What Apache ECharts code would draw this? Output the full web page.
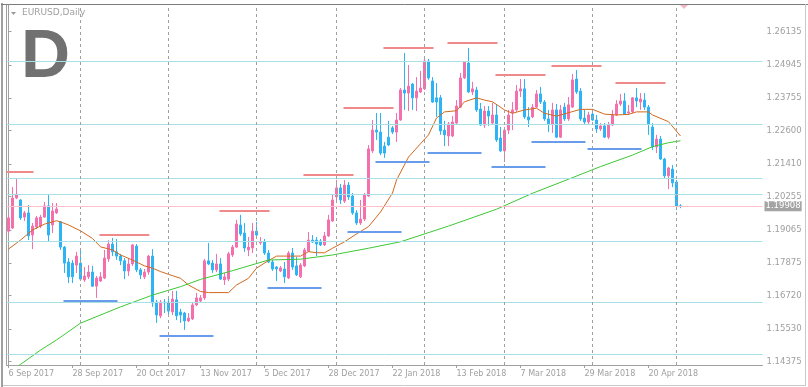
<!DOCTYPE html>
<html><head><meta charset="utf-8">
<script src="https://cdn.jsdelivr.net/npm/echarts@6/dist/echarts.min.js"></script>
<style>html,body{margin:0;padding:0;background:#fff}#c{width:808px;height:387px}</style>
</head><body><div id="c"></div>
<script>
// ---- data ----
const startDate = [2017, 8, 6];           // 6 Sep 2017 (UTC y, m0, d)
const barCount = 169;
const holidays = ['2017-12-25', '2018-01-01'];
const emptySlots = 20;                    // right-hand shift area
const labelEvery = 16;
const yTickValues = [1.14375, 1.15530, 1.16720, 1.17875, 1.19065, 1.20255, 1.21410, 1.22600, 1.23755, 1.24945, 1.26135];
const yMin = 1.14249, yMax = 1.27079;

const opens = [1.1902,1.1913,1.2020,1.2013,1.1952,1.1967,1.1888,1.1917,1.1920,1.1952,
 1.1992,1.1924,1.1967,1.1935,1.1845,1.1792,1.1788,1.1781,1.1788,1.1728,
 1.1739,1.1756,1.1706,1.1724,1.1735,1.1803,1.1856,1.1828,1.1813,1.1796,
 1.1760,1.1785,1.1849,1.1764,1.1739,1.1756,1.1813,1.1649,1.1600,1.1649,
 1.1649,1.1614,1.1657,1.1614,1.1610,1.1582,1.1589,1.1639,1.1653,1.1664,
 1.1796,1.1788,1.1764,1.1785,1.1728,1.1731,1.1817,1.1845,1.1924,1.1895,
 1.1835,1.1842,1.1902,1.1860,1.1863,1.1824,1.1792,1.1774,1.1760,1.1767,
 1.1735,1.1824,1.1778,1.1739,1.1778,1.1831,1.1870,1.1870,1.1867,1.1853,
 1.1885,1.1938,1.2024,1.2056,1.2009,1.2066,1.2027,1.1967,1.1931,1.1945,
 1.2027,1.2188,1.2262,1.2255,1.2205,1.2237,1.2270,1.2255,1.2298,1.2405,
 1.2394,1.2426,1.2377,1.2398,1.2409,1.2508,1.2437,1.2377,1.2377,1.2262,
 1.2241,1.2241,1.2287,1.2344,1.2448,1.2501,1.2398,1.2405,1.2337,1.2280,
 1.2330,1.2287,1.2316,1.2234,1.2188,1.2262,1.2323,1.2334,1.2401,1.2409,
 1.2309,1.2309,1.2344,1.2391,1.2362,1.2302,1.2284,1.2334,1.2237,1.2344,
 1.2302,1.2344,1.2444,1.2401,1.2305,1.2291,1.2319,1.2298,1.2266,1.2277,
 1.2237,1.2280,1.2316,1.2355,1.2366,1.2323,1.2327,1.2377,1.2362,1.2369,
 1.2344,1.2273,1.2202,1.2230,1.2159,1.2099,1.2123,1.2077,1.1992];
const closes = [1.1949,1.2020,1.2034,1.1949,1.1967,1.1885,1.1920,1.1949,1.1952,1.1992,
 1.1888,1.1974,1.1981,1.1845,1.1788,1.1739,1.1739,1.1813,1.1731,1.1742,
 1.1756,1.1706,1.1735,1.1739,1.1806,1.1856,1.1828,1.1813,1.1796,1.1760,
 1.1785,1.1853,1.1764,1.1746,1.1756,1.1813,1.1646,1.1603,1.1649,1.1646,
 1.1617,1.1660,1.1600,1.1603,1.1582,1.1592,1.1639,1.1664,1.1664,1.1796,
 1.1785,1.1764,1.1785,1.1731,1.1739,1.1821,1.1845,1.1927,1.1892,1.1842,
 1.1845,1.1902,1.1888,1.1863,1.1824,1.1792,1.1767,1.1767,1.1771,1.1739,
 1.1824,1.1774,1.1746,1.1781,1.1835,1.1870,1.1863,1.1856,1.1853,1.1885,
 1.1942,1.2013,1.2056,1.2013,1.2066,1.2024,1.1967,1.1931,1.1945,1.2031,
 1.2195,1.2262,1.2255,1.2180,1.2180,1.2209,1.2255,1.2298,1.2405,1.2394,
 1.2419,1.2377,1.2401,1.2412,1.2508,1.2448,1.2362,1.2362,1.2259,1.2245,
 1.2284,1.2291,1.2348,1.2448,1.2505,1.2398,1.2409,1.2334,1.2280,1.2330,
 1.2312,1.2316,1.2227,1.2188,1.2262,1.2316,1.2334,1.2401,1.2409,1.2309,
 1.2298,1.2344,1.2391,1.2362,1.2302,1.2284,1.2334,1.2237,1.2334,1.2302,
 1.2352,1.2441,1.2398,1.2302,1.2291,1.2316,1.2298,1.2266,1.2277,1.2237,
 1.2280,1.2316,1.2355,1.2366,1.2319,1.2327,1.2377,1.2366,1.2373,1.2344,
 1.2284,1.2202,1.2230,1.2159,1.2099,1.2127,1.2074,1.1992,1.19908];
const lows = [1.1892,1.1910,1.2016,1.1942,1.1938,1.1870,1.1838,1.1910,1.1913,1.1949,
 1.1863,1.1895,1.1963,1.1835,1.1753,1.1717,1.1717,1.1753,1.1728,1.1721,
 1.1731,1.1703,1.1664,1.1721,1.1731,1.1792,1.1813,1.1799,1.1781,1.1731,
 1.1742,1.1778,1.1756,1.1731,1.1731,1.1746,1.1632,1.1575,1.1592,1.1610,
 1.1603,1.1603,1.1585,1.1575,1.1550,1.1578,1.1585,1.1635,1.1646,1.1657,
 1.1781,1.1753,1.1756,1.1728,1.1710,1.1724,1.1810,1.1842,1.1885,1.1828,
 1.1813,1.1824,1.1878,1.1853,1.1817,1.1788,1.1760,1.1724,1.1756,1.1717,
 1.1731,1.1764,1.1742,1.1735,1.1774,1.1828,1.1860,1.1813,1.1849,1.1849,
 1.1881,1.1935,1.2002,1.1999,1.2002,1.2013,1.1960,1.1924,1.1924,1.1938,
 1.2024,1.2180,1.2227,1.2173,1.2163,1.2205,1.2248,1.2220,1.2295,1.2334,
 1.2330,1.2334,1.2330,1.2394,1.2405,1.2441,1.2359,1.2309,1.2245,1.2205,
 1.2205,1.2237,1.2284,1.2341,1.2444,1.2394,1.2387,1.2327,1.2277,1.2270,
 1.2277,1.2280,1.2220,1.2184,1.2148,1.2248,1.2262,1.2327,1.2380,1.2302,
 1.2273,1.2305,1.2341,1.2355,1.2295,1.2255,1.2252,1.2234,1.2234,1.2295,
 1.2295,1.2341,1.2391,1.2295,1.2284,1.2284,1.2295,1.2252,1.2259,1.2234,
 1.2230,1.2277,1.2312,1.2348,1.2316,1.2316,1.2323,1.2344,1.2334,1.2334,
 1.2245,1.2191,1.2180,1.2156,1.2091,1.2052,1.2059,1.1977,1.1984];
const highs = [1.1960,1.2059,1.2091,1.2016,1.1974,1.1995,1.1931,1.1956,1.1960,1.2006,
 1.2034,1.2002,1.2002,1.1938,1.1849,1.1806,1.1799,1.1828,1.1835,1.1774,
 1.1781,1.1778,1.1742,1.1756,1.1835,1.1870,1.1878,1.1874,1.1821,1.1806,
 1.1806,1.1856,1.1856,1.1771,1.1767,1.1817,1.1838,1.1657,1.1657,1.1660,
 1.1664,1.1689,1.1689,1.1625,1.1614,1.1610,1.1649,1.1682,1.1674,1.1803,
 1.1860,1.1799,1.1821,1.1806,1.1753,1.1828,1.1853,1.1942,1.1960,1.1931,
 1.1881,1.1931,1.1935,1.1881,1.1874,1.1835,1.1799,1.1778,1.1778,1.1792,
 1.1831,1.1842,1.1810,1.1788,1.1842,1.1899,1.1888,1.1881,1.1874,1.1899,
 1.1960,1.2031,1.2084,1.2070,1.2084,1.2077,1.2038,1.1977,1.2013,1.2038,
 1.2209,1.2298,1.2323,1.2323,1.2220,1.2295,1.2277,1.2323,1.2412,1.2537,
 1.2494,1.2430,1.2451,1.2473,1.2523,1.2516,1.2451,1.2430,1.2387,1.2295,
 1.2291,1.2312,1.2369,1.2466,1.2508,1.2555,1.2434,1.2416,1.2359,1.2348,
 1.2348,1.2359,1.2352,1.2273,1.2273,1.2334,1.2362,1.2423,1.2444,1.2444,
 1.2344,1.2355,1.2405,1.2416,1.2369,1.2334,1.2359,1.2355,1.2352,1.2359,
 1.2380,1.2462,1.2476,1.2412,1.2334,1.2327,1.2337,1.2316,1.2287,1.2287,
 1.2291,1.2334,1.2369,1.2391,1.2394,1.2352,1.2380,1.2412,1.2394,1.2394,
 1.2352,1.2287,1.2245,1.2241,1.2163,1.2131,1.2138,1.2084,1.1998];

// moving averages: [bar index, price]
const maFast = [[0,1.1838],[3,1.1870],[6,1.1906],[9,1.1927],[12,1.1939],[13,1.1935],[15,1.1924],[18,1.1903],[21,1.1876],[23,1.1846],[26,1.1835],[28,1.1817],[31,1.1799],[34,1.1778],[36,1.1770],[38,1.1758],[40,1.1748],[43,1.1734],[45,1.1710],[48,1.1687],[50,1.1683],[55,1.1683],[57,1.1710],[60,1.1734],[62,1.1770],[65,1.1797],[67,1.1813],[73,1.1813],[75,1.1829],[77,1.1825],[79,1.1825],[81,1.1841],[84,1.1864],[87,1.1892],[90,1.1918],[93,1.1970],[96,1.2038],[97,1.2084],[100,1.2166],[105,1.2245],[107,1.2305],[109,1.2327],[112,1.2331],[114,1.2363],[117,1.2377],[119,1.2369],[121,1.2363],[124,1.2334],[126,1.2322],[129,1.2334],[132,1.2340],[134,1.2322],[137,1.2312],[140,1.2324],[143,1.2336],[146,1.2336],[149,1.2319],[152,1.2316],[155,1.2318],[157,1.2327],[160,1.2327],[161,1.2316],[165,1.2292],[168,1.2241]];
const maSlow = [[0,1.1398],[3,1.1427],[8,1.1478],[12,1.1514],[18,1.1574],[28,1.1632],[36,1.1674],[43,1.1704],[48,1.1730],[55,1.1757],[65,1.1799],[73,1.1802],[81,1.1817],[90,1.1841],[98,1.1864],[110,1.1920],[122,1.1980],[131,1.2037],[140,1.2087],[148,1.2132],[156,1.2173],[161,1.2203],[165,1.2217],[168,1.2224]];

const levelLines = [1.2508, 1.2283, 1.2090, 1.2034, 1.1867, 1.1648, 1.1463];
const bidPrice = 1.19908;
const monthStarts = [18, 40, 62, 82, 104, 124, 146, 167];
// [from bar, to bar, price]
const resistanceSegs = [[-0.5,6.25,1.2113],[22.75,35.2,1.1889],[52.75,65.25,1.1975],[73.75,86.25,1.2102],[83.75,96.25,1.2342],[93.75,106.25,1.2556],[109.75,122.25,1.2574],[121.75,134.25,1.2460],[135.75,148.25,1.2492],[151.75,164.25,1.2431]];
const supportSegs = [[13.75,27.25,1.1654],[37.75,51.25,1.1529],[64.75,78.25,1.1700],[84.75,98.25,1.1900],[91.75,105.25,1.2149],[104.75,118.25,1.2182],[120.75,134.25,1.2132],[130.75,144.25,1.2221],[144.75,158.25,1.2196]];

// ---- categories (trading days) ----
const monthNames = ['Jan','Feb','Mar','Apr','May','Jun','Jul','Aug','Sep','Oct','Nov','Dec'];
const categories = [];
const d = new Date(Date.UTC(startDate[0], startDate[1], startDate[2]));
while (categories.length < barCount) {
  const dow = d.getUTCDay();
  const iso = d.toISOString().slice(0, 10);
  if (dow !== 0 && dow !== 6 && holidays.indexOf(iso) < 0) {
    categories.push(d.getUTCDate() + ' ' + monthNames[d.getUTCMonth()] + ' ' + d.getUTCFullYear());
  }
  d.setUTCDate(d.getUTCDate() + 1);
}
for (let k = 0; k < emptySlots; k++) categories.push('');
const candleData = opens.map((o, i) => [o, closes[i], lows[i], highs[i]]);

const PINK = '#f470ad', BLUE = '#2cb4f4';
const showIdx = (i) => i % labelEvery === 0 && i < barCount;

const bgLines = [];
levelLines.forEach(v => bgLines.push({ yAxis: v, lineStyle: { color: '#a9dfe6', width: 1, type: 'solid' } }));
monthStarts.forEach(v => bgLines.push({ xAxis: v, lineStyle: { color: '#a0a0a0', width: 1, type: [3, 3] } }));
bgLines.push({ yAxis: bidPrice, lineStyle: { color: '#ffc0cb', width: 1, type: 'solid' },
  label: { show: true, position: 'end', distance: 2, formatter: bidPrice.toFixed(5), color: '#fff',
    backgroundColor: '#a4a4a4', padding: [1, 1, 0, 1], fontFamily: 'DejaVu Sans', fontSize: 8.5 } });

const segLines = [];
resistanceSegs.forEach(s => segLines.push([{ coord: [s[0], s[2]], lineStyle: { color: '#f08a8a', width: 2, type: 'solid' } }, { coord: [s[1], s[2]] }]));
supportSegs.forEach(s => segLines.push([{ coord: [s[0], s[2]], lineStyle: { color: '#6a9cec', width: 2, type: 'solid' } }, { coord: [s[1], s[2]] }]));

const chart = echarts.init(document.getElementById('c'), null, { renderer: 'canvas' });
chart.setOption({
  animation: false,
  backgroundColor: '#fff',
  grid: { left: 6.5, right: 45.5, top: 5, bottom: 22 },
  xAxis: [
    { type: 'category', data: categories, boundaryGap: true,
      axisLine: { show: true, lineStyle: { color: '#a0a0a0' } },
      axisTick: { show: true, alignWithLabel: true, length: 3, interval: showIdx, lineStyle: { color: '#a0a0a0' } },
      axisLabel: { interval: showIdx, align: 'left', color: '#a0a0a0', fontFamily: 'DejaVu Sans', fontSize: 8, margin: 5 },
      splitLine: { show: false } },
    { type: 'value', min: -0.5, max: barCount + emptySlots - 0.5, show: false }
  ],
  yAxis: { type: 'value', position: 'right', min: yMin, max: yMax,
    axisLine: { show: true, lineStyle: { color: '#a0a0a0' } },
    axisTick: { show: true, length: 3, customValues: yTickValues, lineStyle: { color: '#a0a0a0' } },
    axisLabel: { customValues: yTickValues, formatter: v => v.toFixed(5), color: '#a0a0a0', fontFamily: 'DejaVu Sans', fontSize: 8.5, margin: 4, padding: [3, 0, 0, 0] },
    splitLine: { show: false } },
  series: [
    { type: 'line', xAxisIndex: 1, data: [], z: 1, silent: true,
      markLine: { silent: true, precision: 6, symbol: ['none', 'none'], animation: false, label: { show: false }, data: bgLines } },
    { type: 'candlestick', xAxisIndex: 0, data: candleData, barWidth: 2, z: 2,
      itemStyle: { color: PINK, color0: BLUE, borderColor: PINK, borderColor0: BLUE, borderWidth: 1 } },
    { type: 'line', xAxisIndex: 1, data: maFast, symbol: 'none', z: 3, silent: true,
      lineStyle: { color: '#d2691e', width: 1 } },
    { type: 'line', xAxisIndex: 1, data: maSlow, symbol: 'none', z: 3, silent: true,
      lineStyle: { color: '#3cc832', width: 1 } },
    { type: 'line', xAxisIndex: 1, data: [], z: 4, silent: true,
      markLine: { silent: true, precision: 6, symbol: ['none', 'none'], animation: false, label: { show: false }, data: segLines } }
  ],
  graphic: { elements: [
    { type: 'line', silent: true, shape: { x1: 2, y1: 3, x2: 2, y2: 387 }, style: { stroke: '#a0a0a0', lineWidth: 2 } },
    { type: 'line', silent: true, shape: { x1: 6.5, y1: 4, x2: 6.5, y2: 365 }, style: { stroke: '#a0a0a0', lineWidth: 1 } },
    { type: 'line', silent: true, shape: { x1: 1, y1: 4.5, x2: 808, y2: 4.5 }, style: { stroke: '#7c7c7c', lineWidth: 1 } },
    { type: 'line', silent: true, shape: { x1: 805.5, y1: 4, x2: 805.5, y2: 386 }, style: { stroke: '#c8c8c8', lineWidth: 1 } },
    { type: 'line', silent: true, shape: { x1: 3, y1: 385.5, x2: 806, y2: 385.5 }, style: { stroke: '#c8c8c8', lineWidth: 1 } },
    { type: 'polygon', silent: true, shape: { points: [[11, 12], [16, 12], [13.5, 15]] }, style: { fill: '#9a9a9a' } },
    { type: 'text', silent: true, x: 22, y: 13, style: { text: 'EURUSD,Daily', font: '9px "DejaVu Sans"', fill: '#a0a0a0', verticalAlign: 'middle', textVerticalAlign: 'middle' } },
    { type: 'text', silent: true, x: 21, y: 58, style: { text: 'D', font: 'bold 68px "Liberation Sans"', fill: '#717171', verticalAlign: 'middle', textVerticalAlign: 'middle' } },
    { type: 'polygon', silent: true, shape: { points: [[680, 5], [688, 5], [684, 9]] }, style: { fill: '#f4b8c6' } }
  ] }
});
</script></body></html>
